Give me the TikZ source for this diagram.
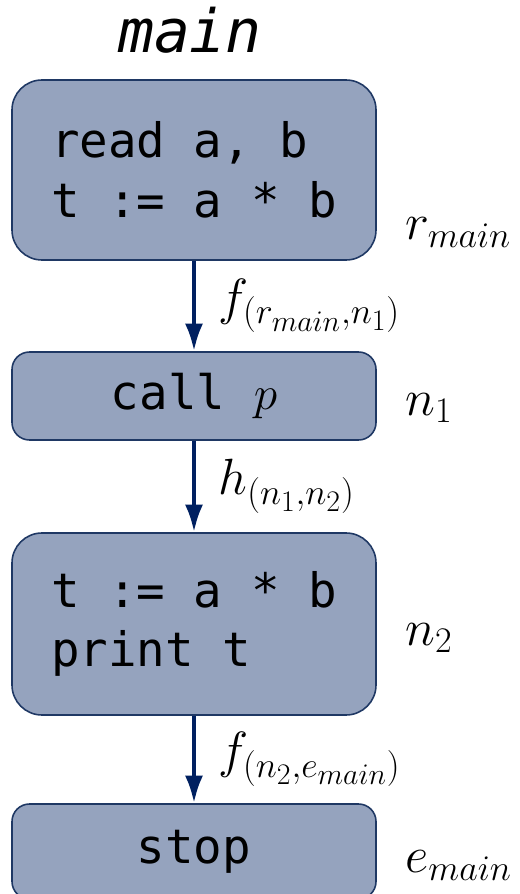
\RequirePackage{fix-cm}
\documentclass[tikz,border=0pt]{standalone}
\usepackage{amsmath}
\usepackage{fontspec}
\setmonofont{DejaVu Sans Mono}
\usepackage{tikz}
\usetikzlibrary{arrows.meta,positioning}

\definecolor{blockfill}{RGB}{149,163,190}
\definecolor{blockline}{RGB}{31,56,100}
\definecolor{arrowblue}{RGB}{0,32,96}
\newcommand{\blockfont}{\fontsize{27}{34}\selectfont\ttfamily}
\newcommand{\labelfont}{\fontsize{29}{34}\selectfont}
\DeclareMathSizes{29}{29}{20.5}{17}

\begin{document}
\begin{tikzpicture}[
    block/.style={
        draw=blockline, line width=0.9pt, fill=blockfill,
        rounded corners=0.6cm, align=left,
        minimum width=7.28cm, font=\blockfont
    },
    smallblock/.style={
        block, rounded corners=0.35cm, align=center
    },
    lbl/.style={anchor=base west, inner sep=0pt, font=\labelfont},
    elbl/.style={right=0.45cm, inner sep=0pt, font=\labelfont},
    edge/.style={-{Latex[length=5.5mm,width=3.6mm]}, line width=2.3pt, draw=arrowblue}
]
\useasboundingbox (0,0) rectangle (10.4,-17.88);

% title
\node[font=\fontsize{34}{40}\selectfont\ttfamily\itshape, anchor=base] (title) at (3.8,-1.06) {main};

% 1. Blocks
\node[block, minimum height=3.6cm] (readblk) at (3.88,-3.4) {read a, b\\t := a * b};
\node[smallblock, minimum height=1.76cm] (callblk) at (3.88,-7.92) {call $p$};
\node[block, minimum height=3.64cm] (printblk) at (3.88,-12.48) {t := a * b\\print t};
\node[smallblock, minimum height=1.9cm] (stopblk) at (3.88,-17.03) {stop};

% 2. Node names
\node[lbl] (rmain) at (8.1,-4.8) {$r_{main}$};
\node[lbl] (nfirst) at (8.1,-8.3) {$n_1$};
\node[lbl] (nsecond) at (8.1,-12.9) {$n_2$};
\node[lbl] (emain) at (8.1,-17.45) {$e_{main}$};

% 3. Edges
\draw[edge] (readblk.south) -- node[elbl] {$f_{(r_{main},n_1)}$} (callblk.north);
\draw[edge] (callblk.south) -- node[elbl] {$h_{(n_1,n_2)}$} (printblk.north);
\draw[edge] (printblk.south) -- node[elbl] {$f_{(n_2,e_{main})}$} (stopblk.north);

\end{tikzpicture}
\end{document}
